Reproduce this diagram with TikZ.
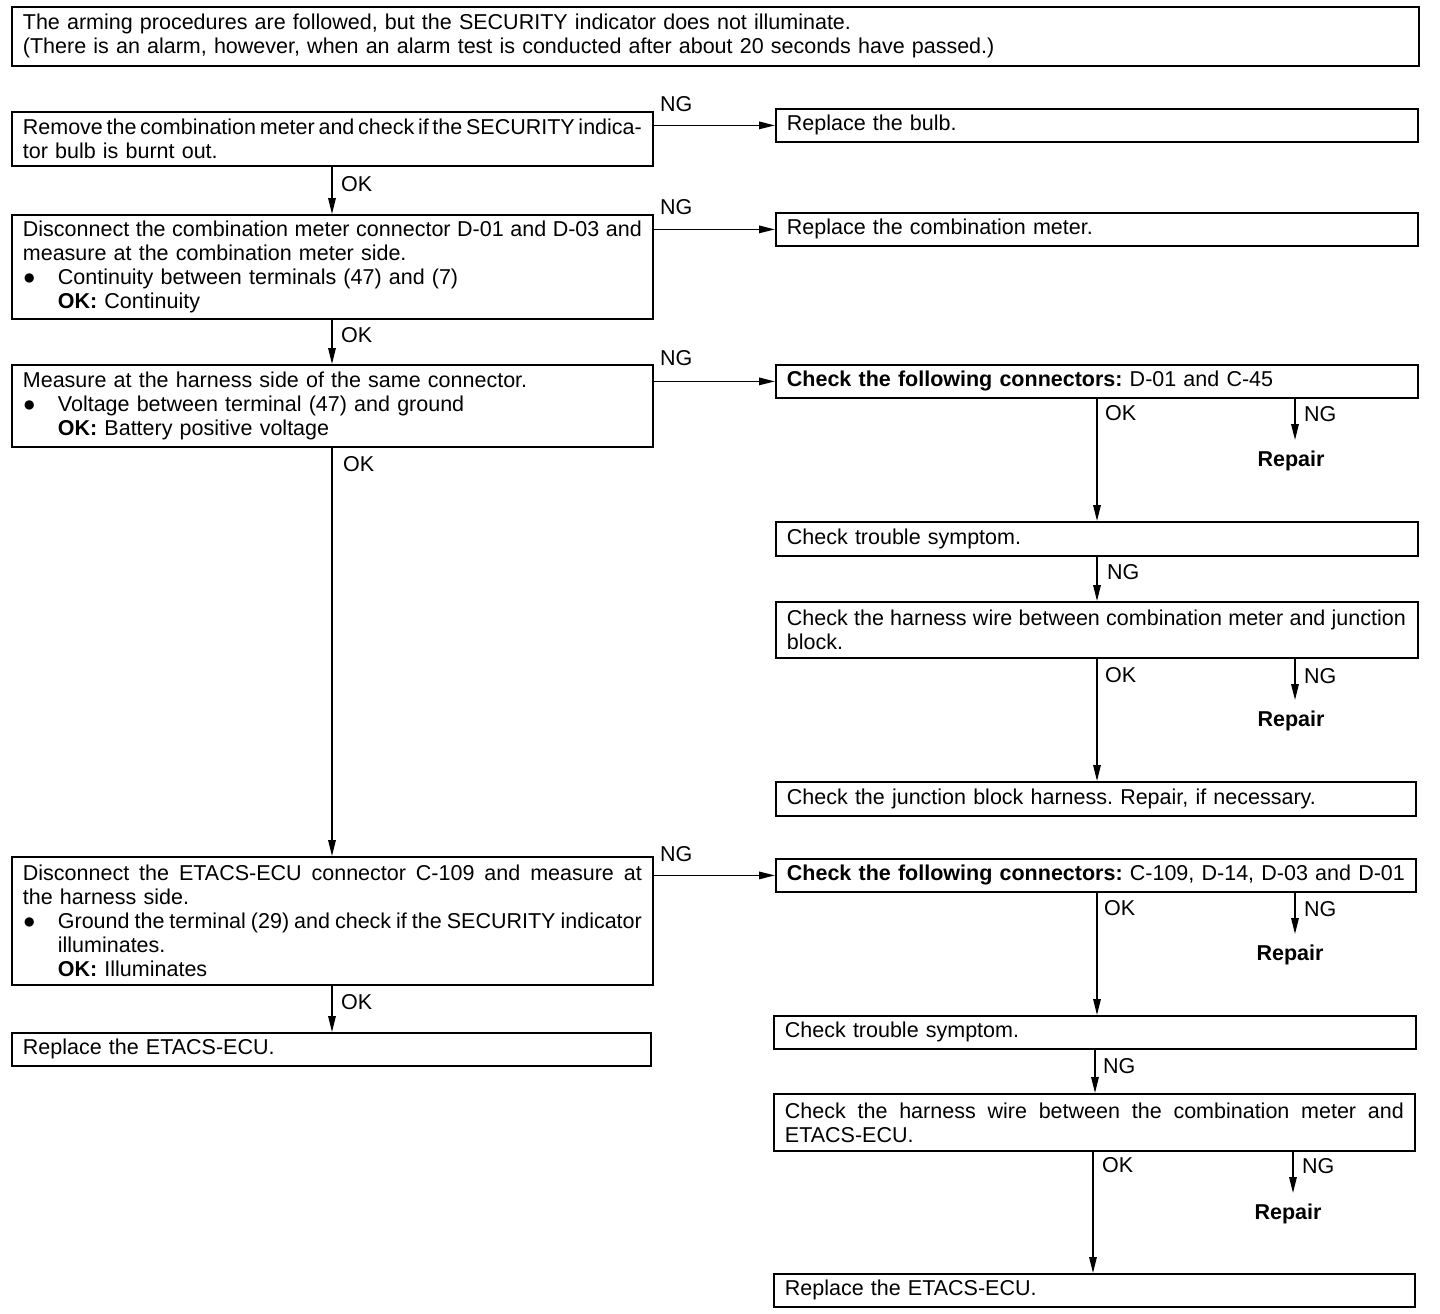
\documentclass[tikz,border=0pt]{standalone}
\usepackage{fontspec}
\setmainfont{Liberation Sans}
\usetikzlibrary{arrows.meta}
\frenchspacing
\newcommand{\jl}[2][619pt]{\makebox[#1][s]{\spaceskip=0.278em plus 1em minus 0.22em\relax #2}}
\newcommand{\bul}{\makebox[35pt][l]{●}}
\newcommand{\ind}{\hspace*{35pt}}
\begin{document}
\begin{tikzpicture}[x=1pt,y=-1pt,
  box/.style={draw, line width=1.8pt, anchor=north west, inner xsep=11pt, inner ysep=0pt, align=left, font=\fontsize{21.5}{24}\selectfont\frenchspacing},
  lbl/.style={anchor=north west, inner sep=0pt, font=\fontsize{21.5}{24}\selectfont},
  rep/.style={anchor=north, inner xsep=0pt, inner ysep=11pt, font=\fontsize{21.5}{24}\selectfont\bfseries},
  arr/.style={line width=1.5pt, -{Triangle[length=16pt,width=7.5pt]}}]
\useasboundingbox (0,0) rectangle (1440,1314);
% left column
\node[box, text width=1385pt, minimum width=1407pt, minimum height=59pt] (top) at (11,6)
  {The arming procedures are followed, but the SECURITY indicator does not illuminate.\\
   (There is an alarm, however, when an alarm test is conducted after about 20 seconds have passed.)};
\node[box, text width=619pt, minimum width=641pt, minimum height=54pt] (a) at (11,111)
  {\jl{Remove the combination meter and check if the SECURITY indica-}\\
   tor bulb is burnt out.};
\node[box, text width=620pt, minimum width=642pt, minimum height=33pt] (rb) at (775,108)
  {Replace the bulb.};
\node[box, text width=619pt, minimum width=641pt, minimum height=104pt] (b) at (11,214)
  {\jl{Disconnect the combination meter connector D-01 and D-03 and}\\
   measure at the combination meter side.\\
   \bul Continuity between terminals (47) and (7)\\
   \ind\textbf{OK:} Continuity};
\node[box, text width=620pt, minimum width=642pt, minimum height=33pt] (rm) at (775,212)
  {Replace the combination meter.};
\node[box, text width=619pt, minimum width=641pt, minimum height=82pt] (c) at (11,364)
  {Measure at the harness side of the same connector.\\
   \bul Voltage between terminal (47) and ground\\
   \ind\textbf{OK:} Battery positive voltage};
\node[box, text width=620pt, minimum width=642pt, minimum height=33pt] (c1) at (775,364)
  {\textbf{Check the following connectors:} D-01 and C-45};
\node[box, text width=620pt, minimum width=642pt, minimum height=34pt] (t1) at (775,521)
  {Check trouble symptom.};
\node[box, text width=620pt, minimum width=642pt, minimum height=56pt] (h1) at (775,601)
  {\jl{Check the harness wire between combination meter and junction}\\
   block.};
\node[box, text width=618pt, minimum width=640pt, minimum height=34pt] (j1) at (775,781)
  {Check the junction block harness. Repair, if necessary.};
\node[box, text width=619pt, minimum width=641pt, minimum height=128pt] (d) at (11,856)
  {\jl{Disconnect the ETACS-ECU connector C-109 and measure at}\\
   the harness side.\\
   \bul\jl[584pt]{Ground the terminal (29) and check if the SECURITY indicator}\\
   \ind illuminates.\\
   \ind\textbf{OK:} Illuminates};
\node[box, text width=618pt, minimum width=640pt, minimum height=33pt] (c2) at (775,858)
  {\jl[618pt]{\textbf{Check the following connectors:}\ C-109, D-14, D-03 and D-01}};
\node[box, text width=617pt, minimum width=639pt, minimum height=33pt] (e1) at (11,1032)
  {Replace the ETACS-ECU.};
\node[box, text width=620pt, minimum width=642pt, minimum height=33pt] (t2) at (773,1015)
  {Check trouble symptom.};
\node[box, text width=619pt, minimum width=641pt, minimum height=57pt] (h2) at (773,1093)
  {\jl{Check the harness wire between the combination meter and}\\
   ETACS-ECU.};
\node[box, text width=619pt, minimum width=641pt, minimum height=33pt] (e2) at (773,1273)
  {Replace the ETACS-ECU.};
% repair nodes
\node[rep] (r1) at (1291,440) {Repair};
\node[rep] (r2) at (1291,700) {Repair};
\node[rep] (r3) at (1290,934) {Repair};
\node[rep] (r4) at (1288,1193) {Repair};
% horizontal NG arrows
\draw[arr] (a.east |- rb.west) -- (rb.west);
\draw[arr] (b.east |- rm.west) -- (rm.west);
\draw[arr] (c.east |- c1.west) -- (c1.west);
\draw[arr] (d.east |- c2.west) -- (c2.west);
% left vertical arrows
\draw[arr] ([xshift=321pt]a.south west) -- ([xshift=321pt]a.south west |- b.north);
\draw[arr] ([xshift=321pt]b.south west) -- ([xshift=321pt]b.south west |- c.north);
\draw[arr] ([xshift=321pt]c.south west) -- ([xshift=321pt]c.south west |- d.north);
\draw[arr] ([xshift=321pt]d.south west) -- ([xshift=321pt]d.south west |- e1.north);
% right column arrows
\draw[arr] ([xshift=322pt]c1.south west) -- ([xshift=322pt]c1.south west |- t1.north);
\draw[arr] ([xshift=4pt]r1.north |- c1.south) -- ([xshift=4pt]r1.north);
\draw[arr] ([xshift=322pt]t1.south west) -- ([xshift=322pt]t1.south west |- h1.north);
\draw[arr] ([xshift=322pt]h1.south west) -- ([xshift=322pt]h1.south west |- j1.north);
\draw[arr] ([xshift=4pt]r2.north |- h1.south) -- ([xshift=4pt]r2.north);
\draw[arr] ([xshift=322pt]c2.south west) -- ([xshift=322pt]c2.south west |- t2.north);
\draw[arr] ([xshift=5pt]r3.north |- c2.south) -- ([xshift=5pt]r3.north);
\draw[arr] ([xshift=322pt]t2.south west) -- ([xshift=322pt]t2.south west |- h2.north);
\draw[arr] ([xshift=320pt]h2.south west) -- ([xshift=320pt]h2.south west |- e2.north);
\draw[arr] ([xshift=5pt]r4.north |- h2.south) -- ([xshift=5pt]r4.north);
% labels
\node[lbl] (ng1) at (660,96) {NG};
\node[lbl] (ok1) at (341,176) {OK};
\node[lbl] (ng2) at (660,199) {NG};
\node[lbl] (ok2) at (341,327) {OK};
\node[lbl] (ng3) at (660,350) {NG};
\node[lbl] (ok3) at (343,456) {OK};
\node[lbl] (ng4) at (660,846) {NG};
\node[lbl] (ok4) at (341,994) {OK};
\node[lbl] (ok5) at (1105,405) {OK};
\node[lbl] (ng5) at (1304,406) {NG};
\node[lbl] (ng6) at (1107,564) {NG};
\node[lbl] (ok6) at (1105,667) {OK};
\node[lbl] (ng7) at (1304,668) {NG};
\node[lbl] (ok7) at (1104,900) {OK};
\node[lbl] (ng8) at (1304,901) {NG};
\node[lbl] (ng9) at (1103,1058) {NG};
\node[lbl] (ok8) at (1102,1157) {OK};
\node[lbl] (ng10) at (1302,1158) {NG};
\end{tikzpicture}
\end{document}
